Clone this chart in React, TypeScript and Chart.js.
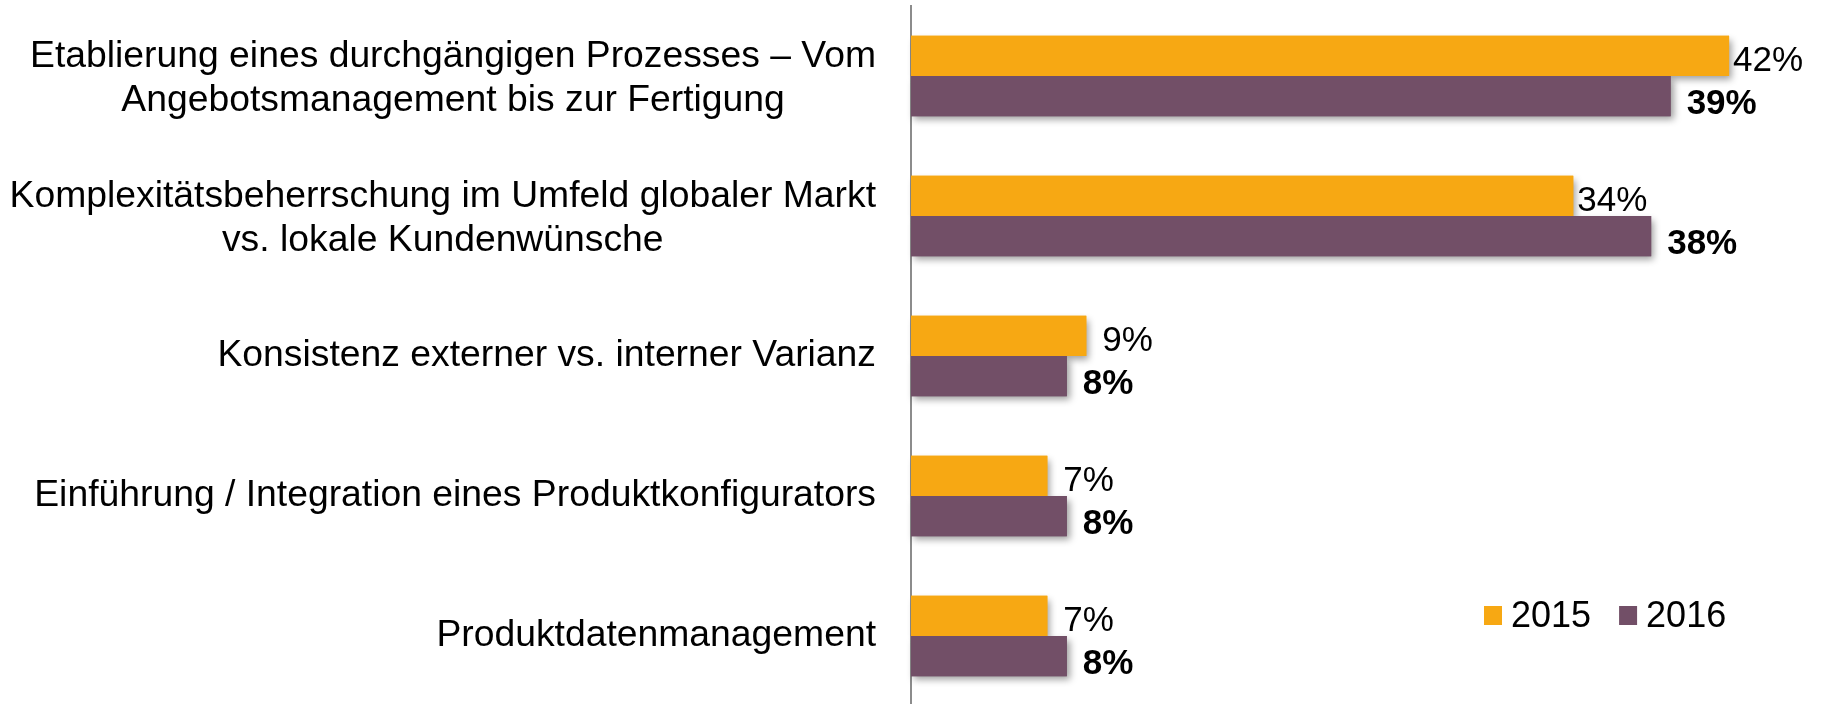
import React, { useEffect, useRef } from 'react';
import { Chart, registerables } from 'chart.js';

Chart.register(...registerables);

// ---- data ----
const categories: string[][] = [
  ['Etablierung eines durchgängigen Prozesses – Vom', 'Angebotsmanagement bis zur Fertigung'],
  ['Komplexitätsbeherrschung im Umfeld globaler Markt', 'vs. lokale Kundenwünsche'],
  ['Konsistenz externer vs. interner Varianz'],
  ['Einführung / Integration eines Produktkonfigurators'],
  ['Produktdatenmanagement'],
];
const seriesNames = ['2015', '2016'];
const values2015 = [42, 34, 9, 7, 7];
const values2016 = [39, 38, 8, 8, 8];
const seriesColors = ['#F7A813', '#724F67'];

const FONT = '"Liberation Sans", Arial, Helvetica, sans-serif';

const shadowPlugin = {
  id: 'barShadow',
  beforeDatasetsDraw(chart: any) {
    const ctx = chart.ctx;
    ctx.save();
    ctx.shadowColor = 'rgba(0,0,0,0.38)';
    ctx.shadowBlur = 7;
    ctx.shadowOffsetX = 3;
    ctx.shadowOffsetY = 4;
    chart.data.datasets.forEach((ds: any, di: number) => {
      const meta = chart.getDatasetMeta(di);
      meta.data.forEach((bar: any) => {
        const { x, y, base, height } = bar.getProps(['x', 'y', 'base', 'height'], true);
        ctx.fillStyle = ds.backgroundColor;
        ctx.fillRect(Math.min(base, x), y - height / 2, Math.abs(x - base), height);
      });
    });
    ctx.restore();
  },
};

const textPlugin = {
  id: 'texts',
  afterDraw(chart: any) {
    const ctx = chart.ctx;
    const yScale = chart.scales.y;
    const area = chart.chartArea;
    ctx.save();
    ctx.fillStyle = '#000000';

    // category labels: right-aligned block, lines centered within block
    ctx.font = `37.3px ${FONT}`;
    ctx.textAlign = 'center';
    ctx.textBaseline = 'middle';
    const right = area.left - 35;
    const lineH = 44;
    categories.forEach((lines, i) => {
      const yc = yScale.getPixelForValue(i) + (lines.length > 1 ? 3 : 0);
      const w = Math.max(...lines.map((l) => ctx.measureText(l).width));
      const cx = right - w / 2;
      lines.forEach((l, j) => {
        ctx.fillText(l, cx, yc + (j - (lines.length - 1) / 2) * lineH);
      });
    });

    // value labels
    ctx.textAlign = 'left';
    chart.data.datasets.forEach((ds: any, di: number) => {
      const meta = chart.getDatasetMeta(di);
      const bold = di === 1;
      ctx.font = `${bold ? 'bold ' : ''}35px ${FONT}`;
      meta.data.forEach((bar: any, i: number) => {
        const v = ds.data[i];
        const { x, y } = bar.getProps(['x', 'y'], true);
        const off = bold ? 16 : v < 10 ? 16 : 4;
        ctx.fillText(`${v}%`, x + off, y + (bold ? 8 : 5));
      });
    });

    // legend
    ctx.font = `36px ${FONT}`;
    ctx.textBaseline = 'middle';
    let lx = 1484;
    const ly = 616;
    seriesNames.forEach((name, i) => {
      ctx.fillStyle = seriesColors[i];
      ctx.fillRect(lx, ly - 10, 18, 19);
      lx += 18 + 9;
      ctx.fillStyle = '#000000';
      ctx.fillText(name, lx, ly + 1);
      lx += ctx.measureText(name).width + 28;
    });
    ctx.restore();
  },
};

export default function App() {
  const ref = useRef<HTMLCanvasElement | null>(null);

  useEffect(() => {
    if (!ref.current) return;
    const chart = new Chart(ref.current, {
      type: 'bar',
      data: {
        labels: categories.map((c) => c.join(' ')),
        datasets: [
          {
            label: seriesNames[0],
            data: values2015,
            backgroundColor: seriesColors[0],
            borderWidth: 0,
            barPercentage: 1,
            categoryPercentage: 0.575,
          },
          {
            label: seriesNames[1],
            data: values2016,
            backgroundColor: seriesColors[1],
            borderWidth: 0,
            barPercentage: 1,
            categoryPercentage: 0.575,
          },
        ],
      },
      options: {
        indexAxis: 'y',
        animation: false,
        responsive: false,
        devicePixelRatio: 1,
        layout: { padding: { top: 6, right: 18, bottom: 6, left: 0 } },
        plugins: {
          legend: { display: false },
          tooltip: { enabled: false },
        },
        scales: {
          x: { display: false, min: 0, max: 46 },
          y: {
            type: 'category',
            offset: true,
            grid: { display: false, drawTicks: false },
            border: { display: true, color: '#8c8c8c', width: 2 },
            ticks: { display: false },
            afterFit: (scale: any) => {
              scale.width = 911;
            },
          },
        },
      } as any,
      plugins: [shadowPlugin, textPlugin],
    });
    return () => chart.destroy();
  }, []);

  return (
    <div
      style={{
        position: 'fixed',
        left: 0,
        top: 0,
        width: 1825,
        height: 704,
        overflow: 'hidden',
        background: '#ffffff',
      }}
    >
      <canvas ref={ref} width={1825} height={712} style={{ display: 'block' }} />
    </div>
  );
}
